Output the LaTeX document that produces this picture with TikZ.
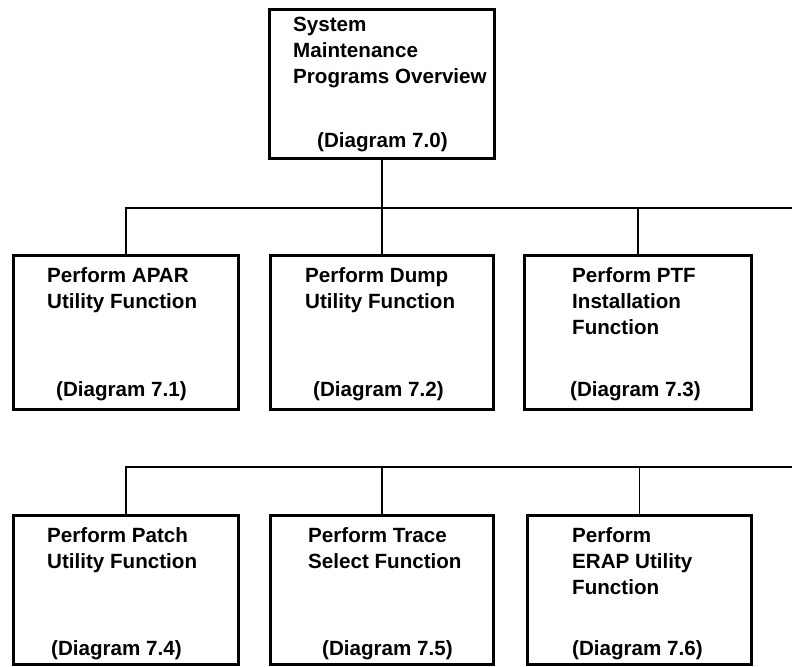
\documentclass[tikz,border=0pt]{standalone}
\usepackage{fontspec}
\setmainfont{Liberation Sans}
\begin{document}
\begin{tikzpicture}[x=1bp,y=-1bp,
  fbox/.style={draw, line width=2.8bp, rectangle, minimum width=225bp,
    minimum height=152bp, anchor=north west, inner sep=0pt},
  topbox/.style={fbox, minimum height=149bp},
  wire/.style={line width=1.8bp},
  lbl/.style={anchor=base west, inner sep=0pt, font=\fontsize{20.6bp}{26bp}\selectfont\bfseries},
]
\useasboundingbox (0,0) rectangle (792,667);

% boxes
\node[topbox] (top) at (268,8) {};
\node[fbox, minimum height=154bp] (b1) at (12,254) {};
\node[fbox, minimum width=223bp, minimum height=154bp] (b2) at (269,254) {};
\node[fbox, minimum width=227bp, minimum height=154bp] (b3) at (523,254) {};
\node[fbox, minimum height=149bp] (b4) at (12,514) {};
\node[fbox, minimum width=223bp, minimum height=149bp] (b5) at (269,514) {};
\node[fbox, minimum width=224bp, minimum height=149bp] (b6) at (526,514) {};

% bus ends at the right margin
\coordinate (busA) at (792,208);
\coordinate (busB) at (792,467);

% connectors
\draw[wire] (top.south) -- (top.south |- busA);
\draw[wire] (b1.north) |- (busA);
\draw[wire] (b2.north) -- (b2.north |- busA);
\draw[wire] (b3.north) -- (b3.north |- busA);
\draw[wire] (b4.north) |- (busB);
\draw[wire] (b5.north) -- (b5.north |- busB);
\draw[wire] (b6.north) -- (b6.north |- busB);

% texts
\node[lbl] (t0a) at (293,32) {System};
\node[lbl] (t0b) at (293,58) {Maintenance};
\node[lbl] (t0c) at (293,84) {Programs Overview};
\node[lbl] (t0d) at (317,148) {(Diagram 7.0)};

\node[lbl] (t1a) at (47,282) {Perform APAR};
\node[lbl] (t1b) at (47,308) {Utility Function};
\node[lbl] (t1d) at (56,396) {(Diagram 7.1)};

\node[lbl] (t2a) at (305,282) {Perform Dump};
\node[lbl] (t2b) at (305,308) {Utility Function};
\node[lbl] (t2d) at (313,396) {(Diagram 7.2)};

\node[lbl] (t3a) at (572,282) {Perform PTF};
\node[lbl] (t3b) at (572,308) {Installation};
\node[lbl] (t3c) at (572,334) {Function};
\node[lbl] (t3d) at (570,396) {(Diagram 7.3)};

\node[lbl] (t4a) at (47,542) {Perform Patch};
\node[lbl] (t4b) at (47,568) {Utility Function};
\node[lbl] (t4d) at (51,655) {(Diagram 7.4)};

\node[lbl] (t5a) at (308,542) {Perform Trace};
\node[lbl] (t5b) at (308,568) {Select Function};
\node[lbl] (t5d) at (322,655) {(Diagram 7.5)};

\node[lbl] (t6a) at (572,542) {Perform};
\node[lbl] (t6b) at (572,568) {ERAP Utility};
\node[lbl] (t6c) at (572,594) {Function};
\node[lbl] (t6d) at (572,655) {(Diagram 7.6)};
\end{tikzpicture}
\end{document}
